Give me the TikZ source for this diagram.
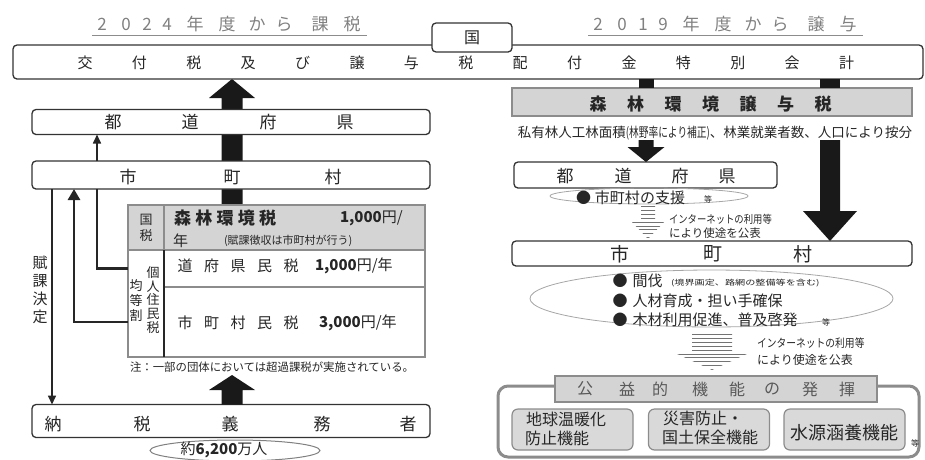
\documentclass[tikz,border=0pt]{standalone}
\usepackage{fontspec}
\setmainfont{Noto Sans CJK JP}
\usetikzlibrary{arrows.meta,calc,shapes.geometric}
\pgfdeclarelayer{back}
\pgfsetlayers{back,main}
\newcommand\fsz[1]{\fontsize{#1}{#1}\selectfont}
% vertical block arrows: #1 from, #2 tip, #3 half shaft, #4 half head, #5 head length
\newcommand\uparrowblk[5]{%
  \fill[black!90] let \p1=(#1), \p2=(#2) in
  ({\x2-#3},{\y1}) -- ({\x2-#3},{\y2-#5}) -- ({\x2-#4},{\y2-#5}) -- ({\x2},{\y2})
  -- ({\x2+#4},{\y2-#5}) -- ({\x2+#3},{\y2-#5}) -- ({\x2+#3},{\y1}) -- cycle;}
\newcommand\downarrowblk[5]{%
  \fill[black!90] let \p1=(#1), \p2=(#2) in
  ({\x2-#3},{\y1}) -- ({\x2-#3},{\y2+#5}) -- ({\x2-#4},{\y2+#5}) -- ({\x2},{\y2})
  -- ({\x2+#4},{\y2+#5}) -- ({\x2+#3},{\y2+#5}) -- ({\x2+#3},{\y1}) -- cycle;}
\newcommand\shaftbar[3]{%
  \fill[black!90] let \p1=(#1), \p2=(#2) in ({\x2-#3},{\y1}) rectangle ({\x2+#3},{\y2});}
% striped arrow: #1 x, #2 top, #3 head start, #4 tip, #5 half shaft, #6 half head
\newcommand\stripes[6]{%
  \begin{scope}
    \clip ({#1-#5},#2) -- ({#1+#5},#2) -- ({#1+#5},#3) -- ({#1+#6},#3) -- (#1,#4) -- ({#1-#6},#3) -- ({#1-#5},#3) -- cycle;
    \foreach \k in {0,...,12}{
      \draw[black!55, line width=0.9pt] ({#1-#6-2},{#2+1.5+3.9*\k}) -- ({#1+#6+2},{#2+1.5+3.9*\k});
    }
  \end{scope}}
\begin{document}
\begin{tikzpicture}[x=1pt,y=-1pt,
  every node/.style={inner sep=0pt,outer sep=0pt,text=black!85},
  rbox/.style={draw=black!80, line width=1.3pt, rounded corners=4pt, fill=white},
  tcell/.style={draw=black!45, line width=1.8pt, fill=white, anchor=north west},
  gcell/.style={tcell, fill=black!17},
  gbox/.style={draw=black!45, fill=black!17, line width=1.8pt},
  sbox/.style={draw=black!45, fill=black!15, line width=1.2pt, rounded corners=6pt, minimum width=121pt, minimum height=41pt},
  ttl/.style={font=\fsz{17}, text=black!50},
  ch/.style={font=\fsz{17}},
  thinarr/.style={line width=1.6pt, draw=black!85, -{Triangle[width=8pt,length=9pt]}},
  link/.style={line width=2.8pt, draw=black!85},
  oval/.style={ellipse, draw=black!35, line width=0.8pt}]
\useasboundingbox (0,0) rectangle (925,459);

% titles
\foreach \c/\x [count=\i] in {2/102,0/126,2/147,4/167,年/195,度/227,か/257,ら/284,課/320,税/352}
  \node[ttl] (tA\i) at (\x,24) {\c};
\draw[black!45, line width=1.8pt] (92,35.5) -- (367,35.5);
\foreach \c/\x [count=\i] in {2/598,0/622,1/643,9/663,年/691,度/723,か/753,ら/780,譲/816,与/848}
  \node[ttl] (tB\i) at (\x,24) {\c};
\draw[black!45, line width=1.8pt] (588,35.5) -- (863,35.5);

% top bar
\node[rbox, minimum width=910pt, minimum height=34pt] (bar) at (468,62) {};
\node[rbox, minimum width=80pt, minimum height=29pt] (kuni) at (472,37.5) {};
\node[font=\fsz{16}] (kunit) at (472,38) {国};
\foreach \c [count=\i from 0] in {交,付,税,及,び,譲,与,税,配,付,金,特,別,会,計}
  \node[font=\fsz{15}] (bc\i) at ({85+54.4*\i},63) {\c};

% ---------- left side ----------
\coordinate (colL) at (232,0);
\coordinate (xa) at (52,0);
\coordinate (xb) at (74,0);
\coordinate (xc) at (97,0);
\coordinate (tipL) at (232,375);

\node[rbox, minimum width=398pt, minimum height=25pt] (kenL) at (231,122) {};
\foreach \c/\x [count=\i] in {都/113,道/190,府/268,県/345}
  \node[ch] (kl\i) at (\x,122) {\c};
\node[rbox, minimum width=398pt, minimum height=28pt] (shiL) at (231,175) {};
\foreach \c/\x [count=\i] in {市/128,町/232,村/333}
  \node[ch] (sl\i) at (\x,177) {\c};
\node[rbox, minimum width=398pt, minimum height=33pt] (nozei) at (231,421) {};
\foreach \c/\x [count=\i] in {納/53,税/142,義/230,務/322,者/408}
  \node[ch] (nz\i) at (\x,424) {\c};

% table
\node[gcell, minimum width=36pt, minimum height=45pt] (tk) at (128,205) {};
\node[gcell, minimum width=261pt, minimum height=45pt] (tm) at (164,205) {};
\node[tcell, minimum width=36pt, minimum height=107pt] (tl) at (128,250) {};
\node[tcell, minimum width=261pt, minimum height=37pt] (td) at (164,250) {};
\node[tcell, minimum width=261pt, minimum height=70pt] (ts) at (164,287) {};
\draw[black!85, line width=1.5pt] (tl.north east) -- (tl.south east);

\node[font=\fsz{13}] (tk1) at (146,220) {国};
\node[font=\fsz{13}] (tk2) at (146,236) {税};
\node[font=\bfseries\fsz{17}, anchor=west] (tmt) at (174,218) {\addfontfeatures{LetterSpace=25}森林環境税};
\node[font=\fsz{15}, anchor=west] (tmy) at (340,218) {\textbf{1,000}円/};
\node[font=\fsz{15}, anchor=west] (tmn) at (173,241) {年};
\node[font=\fsz{11}, anchor=west] (tmc) at (224,241) {(賦課徴収は市町村が行う)};

\foreach \c [count=\i from 0] in {道,府,県,民,税}
  \node[font=\fsz{15}] (dr\i) at ({185+26.5*\i},266) {\c};
\node[font=\fsz{15}, anchor=west] (dry) at (315,266) {\textbf{1,000}円/年};
\foreach \c [count=\i from 0] in {市,町,村,民,税}
  \node[font=\fsz{15}] (sr\i) at ({185+26.5*\i},323) {\c};
\node[font=\fsz{15}, anchor=west] (sry) at (319,323) {\textbf{3,000}円/年};

\foreach \c/\y [count=\i] in {個/273,人/287,住/300,民/314,税/328}
  \node[font=\fsz{13}] (kj\i) at (153,\y) {\c};
\foreach \c/\y [count=\i] in {均/286,等/301,割/316}
  \node[font=\fsz{13}] (kt\i) at (136,\y) {\c};

\node[font=\fsz{11.4}, anchor=west] (note) at (130,367) {注：一部の団体においては超過課税が実施されている。};

\foreach \c/\y [count=\i] in {賦/263,課/281,決/299,定/317}
  \node[font=\fsz{15}] (fk\i) at (40,\y) {\c};

% connectors left
\draw[thinarr] (shiL.south -| xa) -- (nozei.north -| xa);
\draw[thinarr] (shiL.north -| xc) -- (kenL.south -| xc);
\draw[link] (tl.west |- td) -| (shiL.south -| xc);
\draw[link, -{Triangle[width=12pt,length=11pt]}] (tl.west |- ts) -| (shiL.south -| xb);

\begin{pgfonlayer}{back}
  \uparrowblk{tm.north -| colL}{bar.south -| colL}{10.5pt}{23pt}{19pt}
\end{pgfonlayer}
\uparrowblk{nozei.north -| colL}{tipL}{10.5pt}{23pt}{15pt}

\node[oval, draw=black!50, line width=1pt, minimum width=170pt, minimum height=21pt] (popE) at (235,450.5) {};
\node[font=\fsz{15}] (pop) at (224,450) {約\textbf{6,200}万人};

% ---------- right side ----------
\coordinate (colR1) at (646,0);
\coordinate (colR2) at (830,0);

\node[gbox, minimum width=400pt, minimum height=28pt] (joyo) at (712,102) {};
\foreach \c [count=\i from 0] in {森,林,環,境,譲,与,税}
  \node[font=\bfseries\fsz{17}] (jy\i) at ({598+37.5*\i},104) {\c};
\node[font=\fsz{13.5}] (alloc) at (715,133) {私有林人工林面積\scalebox{0.72}[1]{(林野率により補正)}、林業就業者数、人口により按分};

\shaftbar{bar.south -| colR1}{joyo.north -| colR1}{7.5pt}
\shaftbar{bar.south -| colR2}{joyo.north -| colR2}{10pt}

\node[rbox, minimum width=263pt, minimum height=26pt] (kenR) at (645.5,175) {};
\foreach \c/\x [count=\i] in {都/565,道/623,府/680,県/727}
  \node[ch] (kr\i) at (\x,176) {\c};
\downarrowblk{alloc.south -| colR1}{kenR.north -| colR1}{7.5pt}{18.5pt}{15pt}
\node[oval, minimum width=198pt, minimum height=16pt] (ell1) at (649,196) {};
\node[font=\fsz{15}, anchor=west] (sien) at (576,198) {●\hspace{4pt}市町村の支援};
\node[font=\fsz{8}] (sienT) at (708,199) {等};

\stripes{648}{205}{221}{239}{7}{17}
\node[font=\fsz{11}, anchor=west] (net1a) at (669,219) {\scalebox{0.85}[1]{インターネットの利用等}};
\node[font=\fsz{11.5}, anchor=west] (net1b) at (669,233) {により使途を公表};

\node[rbox, minimum width=400pt, minimum height=25pt] (shiR) at (712,253.5) {};
\foreach \c/\x [count=\i] in {市/620,町/713,村/803}
  \node[font=\fsz{19}] (sR\i) at (\x,254) {\c};
\downarrowblk{alloc.south -| colR2}{shiR.north -| colR2}{10pt}{27pt}{30pt}

\node[oval, minimum width=363pt, minimum height=57pt] (ell2) at (711.5,298.5) {};
\node[font=\fsz{15}, anchor=west] (m1) at (612.5,281) {●\hspace{5pt}間伐};
\node[font=\fsz{7.5}, anchor=west] (m1s) at (671,283) {\scalebox{1.35}[1]{(境界画定、路網の整備等を含む)}};
\node[font=\fsz{15}, anchor=west] (m2) at (612.5,301) {●\hspace{5pt}人材育成・担い手確保};
\node[font=\fsz{15}, anchor=west] (m3) at (612.5,320) {●\hspace{5pt}木材利用促進、普及啓発};
\node[font=\fsz{8}] (m3t) at (826,322) {等};

\stripes{712}{333}{353}{370}{20}{37}
\node[font=\fsz{11.5}, anchor=west] (net2a) at (757,343) {\scalebox{0.85}[1]{インターネットの利用等}};
\node[font=\fsz{12}, anchor=west] (net2b) at (757,360) {により使途を公表};

\node[draw=black!45, line width=3pt, rounded corners=10pt, minimum width=421pt, minimum height=71pt] (frame) at (708.5,421.5) {};
\node[gbox, minimum width=322pt, minimum height=26pt] (koeki) at (716,389) {};
\foreach \c/\x [count=\i] in {公/585,益/627,的/660,機/700,能/737,の/772,発/810,揮/847}
  \node[font=\fsz{16}, text=black!65] (ko\i) at (\x,389) {\c};

\node[sbox] (b1) at (572.5,429.5) {};
\node[sbox] (b2) at (709,429.5) {};
\node[sbox] (b3) at (844.5,429.5) {};
\node[font=\fsz{16}, anchor=west] (b1a) at (526,419) {地球温暖化};
\node[font=\fsz{16}, anchor=west] (b1b) at (525,438) {防止機能};
\node[font=\fsz{16}, anchor=west] (b2a) at (663,418) {災害防止・};
\node[font=\fsz{16}, anchor=west] (b2b) at (662,437) {国土保全機能};
\node[font=\fsz{18}] (b3a) at (844,433) {水源涵養機能};
\node[font=\fsz{8}] (b3t) at (915,443) {等};
\end{tikzpicture}
\end{document}
